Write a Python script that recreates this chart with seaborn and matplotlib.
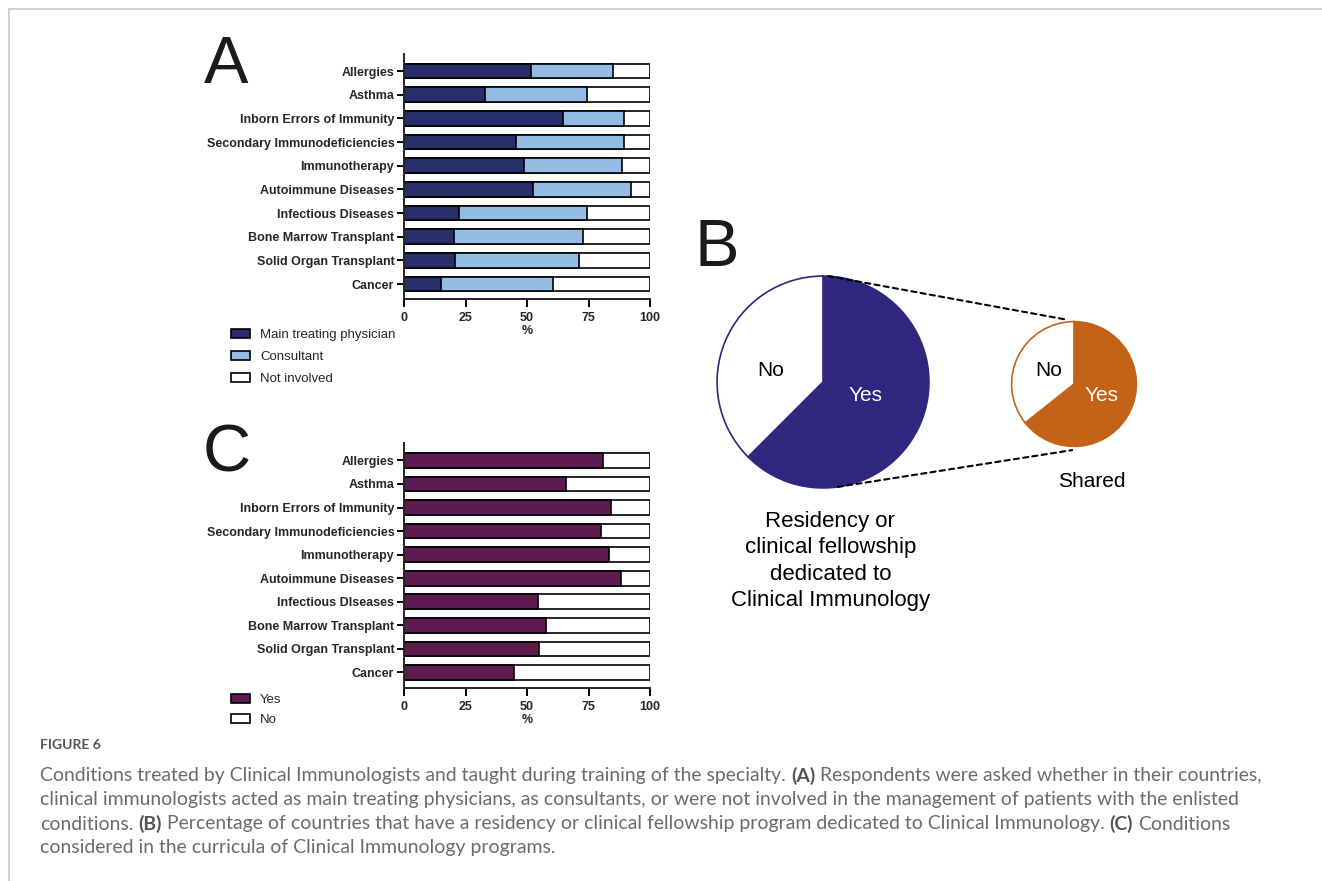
import matplotlib
matplotlib.use("Agg")
import matplotlib.pyplot as plt
import seaborn as sns
import pandas as pd
from matplotlib.patches import Patch, ConnectionPatch
from matplotlib.lines import Line2D

# ---- data ----
conditions_a = ["Allergies", "Asthma", "Inborn Errors of Immunity",
                "Secondary Immunodeficiencies", "Immunotherapy",
                "Autoimmune Diseases", "Infectious Diseases",
                "Bone Marrow Transplant", "Solid Organ Transplant", "Cancer"]
main_treating = [51.5, 32.9, 64.5, 45.5, 48.9, 52.6, 22.4, 20.3, 20.6, 14.9]
consultant = [33.3, 41.4, 24.9, 43.9, 39.9, 39.7, 51.9, 52.6, 50.7, 45.8]
not_involved = [15.2, 25.7, 10.6, 10.6, 11.2, 7.7, 25.7, 27.1, 28.7, 39.3]

conditions_c = ["Allergies", "Asthma", "Inborn Errors of Immunity",
                "Secondary Immunodeficiencies", "Immunotherapy",
                "Autoimmune Diseases", "Infectious DIseases",
                "Bone Marrow Transplant", "Solid Organ Transplant", "Cancer"]
curricula_yes = [80.8, 65.9, 84.2, 79.9, 83.5, 88.4, 54.3, 57.6, 55.0, 44.7]
curricula_no = [19.2, 34.1, 15.8, 20.1, 16.5, 11.6, 45.7, 42.4, 45.0, 55.3]

pie_labels = ["Yes", "No"]
residency = [62.5, 37.5]
shared = [64.3, 35.7]

x_ticks = [0, 25, 50, 75, 100]

# ---- style ----
sns.set_style("ticks")
plt.rcParams["font.family"] = ["Liberation Sans", "DejaVu Sans"]
plt.rcParams["axes.linewidth"] = 1.4

W, H = 1322, 881
fig = plt.figure(figsize=(W / 100, H / 100), dpi=100)


def px_axes(left, top, right, bottom):
    return fig.add_axes([left / W, 1 - bottom / H, (right - left) / W, (bottom - top) / H])


def style_bar_axes(ax, cats, top_pad, bot_pad):
    ax.set_xlim(0, 100)
    ax.set_ylim(len(cats) - 1 + bot_pad, -top_pad)
    ax.set_xticks(x_ticks)
    ax.set_xticklabels([str(t) for t in x_ticks], fontsize=9, fontweight="bold")
    ax.set_yticks(range(len(cats)))
    ax.set_yticklabels(cats, fontsize=9, fontweight="bold")
    ax.tick_params(axis="both", length=5, width=1.4, color="black", pad=2)
    ax.tick_params(axis="x", length=6, pad=3)
    ax.set_xlabel("%", fontsize=9, fontweight="bold", labelpad=1)
    ax.set_ylabel("")
    sns.despine(ax=ax)


bar_kw = dict(orient="h", edgecolor="black", linewidth=1.2, width=0.62, saturation=1)

# ---- panel A ----
navy = "#282e6a"
light_blue = "#93bbe4"
ax_a = px_axes(404, 54, 650, 299)
total_a = [m + c + n for m, c, n in zip(main_treating, consultant, not_involved)]
upto_cons = [m + c for m, c in zip(main_treating, consultant)]
sns.barplot(x=total_a, y=conditions_a, color="white", ax=ax_a, **bar_kw)
sns.barplot(x=upto_cons, y=conditions_a, color=light_blue, ax=ax_a, **bar_kw)
sns.barplot(x=main_treating, y=conditions_a, color=navy, ax=ax_a, **bar_kw)
style_bar_axes(ax_a, conditions_a, 0.72, 0.63)

leg_kw = dict(loc="upper left", frameon=False, fontsize=9.5, borderpad=0, borderaxespad=0,
              handlelength=1.45, handleheight=0.7, handletextpad=0.75,
              bbox_transform=fig.transFigure)
ax_a.legend(handles=[Patch(facecolor=navy, edgecolor="black", lw=1.2),
                     Patch(facecolor=light_blue, edgecolor="black", lw=1.2),
                     Patch(facecolor="white", edgecolor="black", lw=1.2)],
            labels=["Main treating physician", "Consultant", "Not involved"],
            bbox_to_anchor=(231 / W, 1 - 329 / H), labelspacing=0.74, **leg_kw)

# ---- panel C ----
purple = "#5d1b4f"
ax_c = px_axes(404, 443, 650, 688)
total_c = [y + n for y, n in zip(curricula_yes, curricula_no)]
sns.barplot(x=total_c, y=conditions_c, color="white", ax=ax_c, **bar_kw)
sns.barplot(x=curricula_yes, y=conditions_c, color=purple, ax=ax_c, **bar_kw)
style_bar_axes(ax_c, conditions_c, 0.74, 0.66)
ax_c.legend(handles=[Patch(facecolor=purple, edgecolor="black", lw=1.2),
                     Patch(facecolor="white", edgecolor="black", lw=1.2)],
            labels=["Yes", "No"],
            bbox_to_anchor=(231 / W, 1 - 694 / H), labelspacing=0.56, **leg_kw)

# ---- panel B ----
pie_navy = "#302680"
orange = "#c46317"


def pie_axes(cx, cy, r, values, color):
    ax = px_axes(cx - r, cy - r, cx + r, cy + r)
    ax.pie(values, colors=[color, "white"], startangle=90, counterclock=False,
           wedgeprops=dict(edgecolor=color, linewidth=1.2))
    ax.set_xlim(-1.01, 1.01)
    ax.set_ylim(-1.01, 1.01)
    ax.set_aspect("equal")
    ax.axis("off")
    return ax


ax_big = pie_axes(823, 382, 107, residency, pie_navy)
ax_small = pie_axes(1074, 384, 63, shared, orange)

ax_big.text(-0.49, 0.11, pie_labels[1], ha="center", va="center", fontsize=15, color="black")
ax_big.text(0.40, -0.13, pie_labels[0], ha="center", va="center", fontsize=15, color="white")
ax_small.text(-0.40, 0.22, pie_labels[1], ha="center", va="center", fontsize=15, color="black")
ax_small.text(0.44, -0.19, pie_labels[0], ha="center", va="center", fontsize=15, color="white")
ax_small.text(0.29, -1.56, "Shared", ha="center", va="center", fontsize=15, color="black",
              clip_on=False)
ax_big.text(0.07, -1.69, "Residency or\nclinical fellowship\ndedicated to\nClinical Immunology",
            ha="center", va="center", fontsize=16, color="black", linespacing=1.32,
            clip_on=False)

for a, b in [((0.05, 1.0), (-0.11, 1.03)), ((0.14, -0.99), (-0.03, -1.06))]:
    fig.add_artist(ConnectionPatch(xyA=a, coordsA=ax_big.transData,
                                   xyB=b, coordsB=ax_small.transData,
                                   color="black", lw=1.5, linestyle=(0, (2.5, 2))))

# ---- panel letters ----
for letter, (lx, ly) in {"A": (204, 66), "B": (694, 249), "C": (203, 455)}.items():
    fig.text(lx / W, 1 - ly / H, letter, fontsize=48, color="#1a1a1a",
             ha="left", va="center")

# ---- frame lines ----
fig.add_artist(Line2D([9 / W, 1], [1 - 9 / H, 1 - 9 / H], color="#c8c8c8", lw=1.2))
fig.add_artist(Line2D([9 / W, 9 / W], [0, 1 - 9 / H], color="#c8c8c8", lw=1.2))

# ---- caption ----
cap_color = "#6b6b6b"
cap_size = 13.95
cap_font = ["Lato", "DejaVu Sans"]
fig.text(40 / W, 1 - 745 / H, "FIGURE 6", fontsize=10, color="#555555",
         family=cap_font, va="center", fontweight="bold")

caption_lines = [
    [("Conditions treated by Clinical Immunologists and taught during training of the specialty.", False),
     ("(A)", True), ("Respondents were asked whether in their countries,", False)],
    [("clinical immunologists acted as main treating physicians, as consultants, or were not involved in the management of patients with the enlisted", False)],
    [("conditions.", False), ("(B)", True),
     ("Percentage of countries that have a residency or clinical fellowship program dedicated to Clinical Immunology.", False),
     ("(C)", True), ("Conditions", False)],
    [("considered in the curricula of Clinical Immunology programs.", False)],
]
fig.canvas.draw()
renderer = fig.canvas.get_renderer()
probe = fig.text(0, 0, "a a", fontsize=cap_size, family=cap_font)
w2 = probe.get_window_extent(renderer).width
probe.set_text("aa")
space_w = w2 - probe.get_window_extent(renderer).width
probe.remove()

for i, parts in enumerate(caption_lines):
    x = 40.0
    y = 776 + 24 * i
    for text, bold in parts:
        t = fig.text(x / W, 1 - y / H, text, fontsize=cap_size, family=cap_font,
                     color="#555555" if bold else cap_color,
                     fontweight="bold" if bold else "normal", va="center")
        x += t.get_window_extent(renderer).width + space_w

fig.savefig("out.png", dpi=100)
